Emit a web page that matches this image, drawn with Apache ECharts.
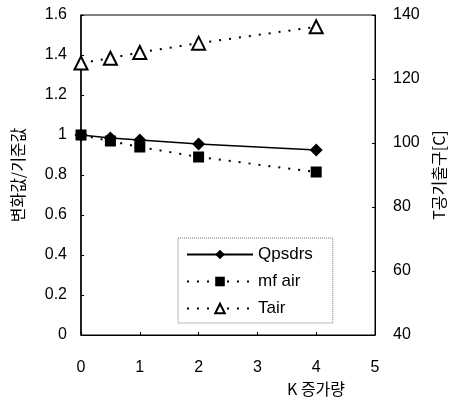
<!DOCTYPE html>
<html>
<head>
<meta charset="utf-8">
<script src="https://cdn.jsdelivr.net/npm/echarts@6/dist/echarts.min.js"></script>
<style>
  html, body { margin: 0; padding: 0; background: #fff; }
  #chart { width: 451px; height: 401px; }
</style>
</head>
<body>
<div id="chart"></div>
<script>
// K increase (x) and responses
const kValues = [0, 0.5, 1, 2, 4];
const qpsdrs = [1.0, 0.985, 0.975, 0.955, 0.925];
const mfair = [1.0, 0.97, 0.94, 0.89, 0.815];
const tair = [125, 126.5, 128.3, 131.2, 136.3];

const seriesNames = ['Qpsdrs', 'mf air', 'Tair'];

const font = '"Liberation Sans", Arial, sans-serif';
const cjk = '"Noto Sans CJK KR", "Liberation Sans", sans-serif';

const pairs = (ys) => kValues.map((k, i) => [k, ys[i]]);

const chart = echarts.init(document.getElementById('chart'));
chart.setOption({
  animation: false,
  backgroundColor: '#fff',
  grid: {
    left: 81, right: 76, top: 15, bottom: 66,
    outerBoundsMode: 'none',
    containLabel: false,
    show: true, borderColor: '#000', borderWidth: 1
  },
  xAxis: {
    type: 'value', min: 0, max: 5, interval: 1,
    name: 'K 증가량',
    nameLocation: 'middle', nameGap: 45,
    nameTextStyle: { fontFamily: cjk, fontSize: 16, color: '#000', padding: [0, 0, 0, 176] },
    axisLine: { show: true, lineStyle: { color: '#000', width: 1 } },
    axisTick: { show: true, inside: true, length: 3, lineStyle: { color: '#000' } },
    axisLabel: { fontFamily: font, fontSize: 16, color: '#000', margin: 25 },
    splitLine: { show: false }
  },
  yAxis: [
    {
      type: 'value', min: 0, max: 1.6, interval: 0.2,
      name: '변화값/기준값',
      nameLocation: 'middle', nameGap: 55, nameRotate: 90,
      nameTextStyle: { fontFamily: cjk, fontSize: 16, color: '#000' },
      axisLine: { show: true, lineStyle: { color: '#000', width: 1.5 } },
      axisTick: { show: true, inside: true, length: 3, lineStyle: { color: '#000' } },
      axisLabel: { fontFamily: font, fontSize: 16, color: '#000', margin: 14,
        formatter: (v) => String(Math.round(v * 10) / 10) },
      splitLine: { show: false }
    },
    {
      type: 'value', min: 40, max: 140, interval: 20,
      name: 'T공기출구[C]',
      nameLocation: 'middle', nameGap: 54, nameRotate: 90,
      nameTextStyle: { fontFamily: cjk, fontSize: 16, color: '#000' },
      axisLine: { show: true, lineStyle: { color: '#000', width: 1 } },
      axisTick: { show: true, inside: true, length: 3, lineStyle: { color: '#000' } },
      axisLabel: { fontFamily: font, fontSize: 16, color: '#000', margin: 18 },
      splitLine: { show: false }
    }
  ],
  legend: {
    orient: 'vertical',
    left: 178, top: 238,
    padding: [8, 20, 6, 8],
    itemWidth: 66, itemHeight: 12, itemGap: 10,
    borderColor: '#777', borderWidth: 1, borderType: 'dotted',
    textStyle: { fontFamily: font, fontSize: 17, color: '#000' },
    data: seriesNames
  },
  series: [
    {
      name: seriesNames[0], type: 'line', data: pairs(qpsdrs),
      symbol: 'diamond', symbolSize: 13,
      itemStyle: { color: '#000' },
      lineStyle: { color: '#000', width: 1.5, type: 'solid' },
      z: 3
    },
    {
      name: seriesNames[1], type: 'line', data: pairs(mfair),
      symbol: 'rect', symbolSize: 11,
      itemStyle: { color: '#000' },
      lineStyle: { color: '#000', width: 2, type: [2, 8] },
      z: 2
    },
    {
      name: seriesNames[2], type: 'line', yAxisIndex: 1, data: pairs(tair),
      symbol: 'triangle', symbolSize: 13,
      itemStyle: { color: '#fff', borderColor: '#000', borderWidth: 2 },
      lineStyle: { color: '#000', width: 2, type: [2, 8] },
      z: 2
    }
  ]
});
</script>
</body>
</html>
